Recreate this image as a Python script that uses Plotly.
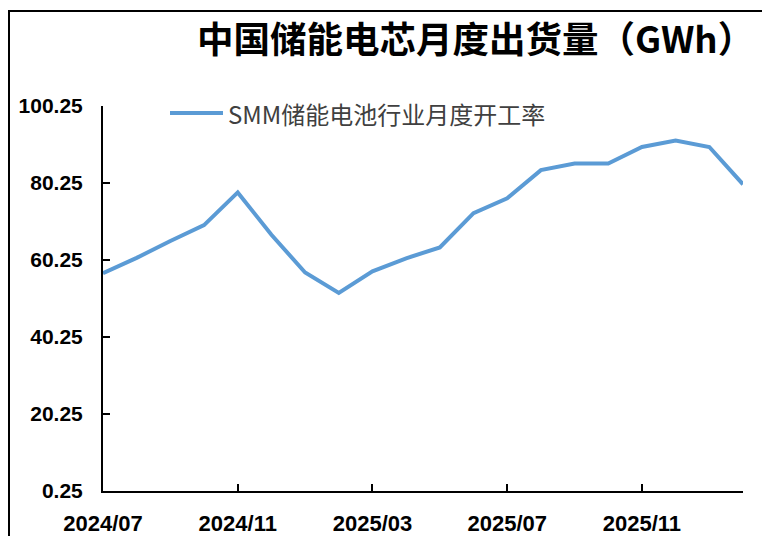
import plotly.graph_objects as go

# Monthly series, 2024/07 - 2026/02
months = [
    "2024/07", "2024/08", "2024/09", "2024/10", "2024/11", "2024/12",
    "2025/01", "2025/02", "2025/03", "2025/04", "2025/05", "2025/06",
    "2025/07", "2025/08", "2025/09", "2025/10", "2025/11", "2025/12",
    "2026/01", "2026/02",
]
utilization = [
    56.8, 60.8, 65.2, 69.3, 77.8, 66.8,
    57.0, 51.7, 57.3, 60.7, 63.5, 72.4,
    76.3, 83.6, 85.3, 85.3, 89.6, 91.3,
    89.6, 79.9,
]
series_name = "SMM储能电池行业月度开工率"
chart_title = "中国储能电芯月度出货量（GWh）"

x_ticks = months[::4]
y_ticks = [0.25, 20.25, 40.25, 60.25, 80.25, 100.25]

LINE_COLOR = "#5B9BD5"
W, H = 762, 536
ML, MR, MT, MB = 103, 19, 106, 45
PW, PH = W - ML - MR, H - MT - MB


def px_x(px):
    return (px - ML) / PW


def px_y(py):
    return (H - MB - py) / PH


fig = go.Figure()
fig.add_trace(go.Scatter(
    x=list(range(len(months))),
    y=utilization,
    mode="lines",
    name=series_name,
    line=dict(color=LINE_COLOR, width=4),
    showlegend=False,
))

tick_font = dict(family="Liberation Sans, Arial, sans-serif", size=21, color="#000000", weight="bold")

fig.update_xaxes(
    range=[0, len(months) - 1],
    tickvals=[months.index(m) for m in x_ticks],
    ticktext=x_ticks,
    showgrid=False, zeroline=False,
    showline=True, linecolor="#000000", linewidth=2,
    ticks="inside", ticklen=7, tickwidth=2, tickcolor="#000000",
    tickfont=dict(tick_font, size=22),
    ticklabelstandoff=12,
    automargin=False,
)
fig.update_yaxes(
    range=[y_ticks[0], y_ticks[-1]],
    tickvals=y_ticks,
    ticktext=[f"{v:.2f}" for v in y_ticks],
    showgrid=False, zeroline=False,
    showline=True, linecolor="#000000", linewidth=2,
    ticks="inside", ticklen=7, tickwidth=2, tickcolor="#000000",
    tickfont=tick_font,
    ticklabelstandoff=14,
    automargin=False,
)

# Outer frame (left and top edges visible)
fig.add_shape(
    type="rect", xref="paper", yref="paper",
    x0=px_x(9), x1=px_x(780), y0=px_y(560), y1=px_y(11),
    line=dict(color="#000000", width=2), fillcolor="rgba(0,0,0,0)",
    layer="below",
)

# Legend entry
fig.add_shape(
    type="line", xref="paper", yref="paper",
    x0=px_x(170), x1=px_x(223), y0=px_y(113), y1=px_y(113),
    line=dict(color=LINE_COLOR, width=4),
)
fig.add_annotation(
    text=series_name, xref="paper", yref="paper",
    x=px_x(226), y=px_y(113), xanchor="left", yanchor="middle",
    showarrow=False,
    font=dict(family="Noto Sans CJK SC, Noto Sans, sans-serif", size=24, color="#404040"),
)

# Title
fig.add_annotation(
    text=chart_title, xref="paper", yref="paper",
    x=px_x(195), y=px_y(38), xanchor="left", yanchor="middle",
    showarrow=False,
    font=dict(family="Noto Sans CJK SC, sans-serif", size=36.5, color="#000000", weight="bold"),
)

fig.update_layout(
    width=W, height=H,
    margin=dict(l=ML, r=MR, t=MT, b=MB),
    paper_bgcolor="#FFFFFF", plot_bgcolor="#FFFFFF",
)

fig.write_html("out.html")
